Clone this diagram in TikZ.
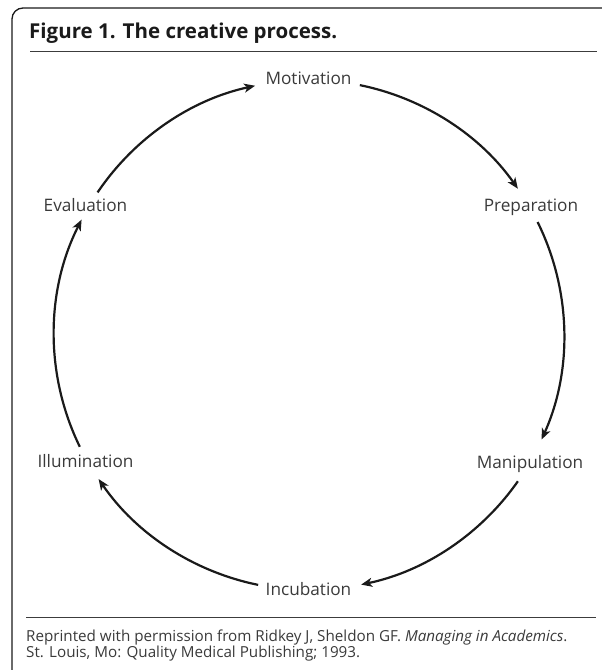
\documentclass[tikz,border=0pt]{standalone}
\usepackage{fontspec}
\setmainfont{Open Sans}
\usetikzlibrary{arrows.meta,calc}
\definecolor{labelgray}{HTML}{3A3A3A}
\definecolor{linecol}{HTML}{1A1A1A}
\tikzset{
  lbl/.style={anchor=base,inner sep=0pt,text=labelgray,font=\fontsize{17.2}{20}\selectfont},
  conn/.style={draw=linecol,line width=2.2pt,-{Stealth[length=11pt,width=9pt,inset=3pt]}},
  frame/.style={draw=linecol,line width=1.3pt},
  rule/.style={draw=linecol!85,line width=1.4pt},
  captext/.style={anchor=base west,inner sep=0pt,text=labelgray,font=\fontsize{15.2}{17}\selectfont}
}
\begin{document}
\begin{tikzpicture}[x=1pt,y=1pt]
\useasboundingbox (0,0) rectangle (602,670);
% frame
\draw[frame,rounded corners=11pt] (12,-2) -- (12,662) -- (604,662);
\draw[rule] (30,618.5) -- (597,618.5);
\draw[rule] (26,52.5) -- (596,52.5);
\node[anchor=base west,inner sep=0pt,text=linecol,font=\fontsize{20.5}{24}\selectfont\bfseries] (title) at (29,631) {Figure 1. The creative process.};
\node[captext] (cap1) at (26,28) {Reprinted with permission from Ridkey J, Sheldon GF. \textit{Managing in Academics}.};
\node[captext] (cap2) at (26,12.5) {St. Louis, Mo: Quality Medical Publishing; 1993.};
% labels
\node[lbl] (mot) at (308.5,585) {Motivation};
\node[lbl] (prep) at (531,458) {Preparation};
\node[lbl] (man) at (530,201) {Manipulation};
\node[lbl] (inc) at (308.5,74) {Incubation};
\node[lbl] (ill) at (85.5,202) {Illumination};
\node[lbl] (eva) at (85.5,458) {Evaluation};
% circle
\coordinate (c) at (309,335);
\coordinate (a1) at ($(c)+(78.5:255)$);
\coordinate (a2) at ($(c)+(26.3:255)$);
\coordinate (a3) at ($(c)+(-35:255)$);
\coordinate (a4) at ($(c)+(-101.5:255)$);
\coordinate (a5) at ($(c)+(-154:255)$);
\coordinate (a6) at ($(c)+(146:255)$);
\draw[conn] (a1) arc[start angle=78.5,end angle=35,radius=255];
\draw[conn] (a2) arc[start angle=26.3,end angle=-24.2,radius=255];
\draw[conn] (a3) arc[start angle=-35,end angle=-78.2,radius=255];
\draw[conn] (a4) arc[start angle=-101.5,end angle=-145.6,radius=255];
\draw[conn] (a5) arc[start angle=-154,end angle=-206.9,radius=255];
\draw[conn] (a6) arc[start angle=146,end angle=102.2,radius=255];
\end{tikzpicture}
\end{document}
